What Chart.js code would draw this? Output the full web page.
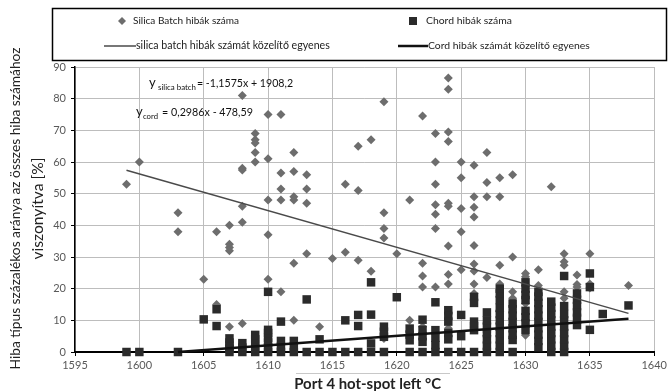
<!DOCTYPE html>
<html>
<head>
<meta charset="utf-8">
<script src="https://cdn.jsdelivr.net/npm/chart.js@4.4.1/dist/chart.umd.min.js"></script>
<style>
  html, body { margin: 0; padding: 0; background: #fff; }
  #wrap { width: 670px; height: 391px; }
</style>
</head>
<body>
<div id="wrap"><canvas id="chart" width="670" height="391"></canvas></div>
<script>
// ===== Data =====
const xTicks = [1595, 1600, 1605, 1610, 1615, 1620, 1625, 1630, 1635, 1640];
const yTicks = [0, 10, 20, 30, 40, 50, 60, 70, 80, 90];

// Silica Batch hibák száma (diamonds)
const silicaPoints = [
  [1599, 53], [1600, 60], [1603, 44], [1603, 38], [1605, 23], [1606, 38], [1606, 15],
  [1607, 40], [1607, 34], [1607, 33], [1607, 32], [1607, 8],
  [1608, 81], [1608, 58], [1608, 57.5], [1608, 46], [1608, 41], [1608, 9],
  [1609, 69], [1609, 67], [1609, 66], [1609, 63], [1609, 60],
  [1610, 75], [1610, 61], [1610, 48], [1610, 37], [1610, 23],
  [1611, 75], [1611, 56.5], [1611, 51.5], [1611, 48], [1611, 19],
  [1612, 63], [1612, 57], [1612, 49], [1612, 48], [1612, 28], [1612, 10],
  [1613, 56], [1613, 51.5], [1613, 47], [1613, 31],
  [1614, 8], [1615, 29.5], [1616, 53], [1616, 31.5],
  [1617, 65], [1617, 51], [1617, 29], [1618, 67], [1618, 25.5],
  [1619, 79], [1619, 44], [1619, 39], [1619, 36], [1619, 4.3],
  [1620, 31], [1621, 48], [1621, 10],
  [1622, 74.5], [1622, 28], [1622, 24], [1622, 20.5], [1622, 8], [1622, 5.5],
  [1623, 69], [1623, 60], [1623, 53], [1623, 46.5], [1623, 43.5], [1623, 39], [1623, 20.5],
  [1624, 86.5], [1624, 83], [1624, 69.5], [1624, 66.5], [1624, 47], [1624, 46],
  [1624, 33.5], [1624, 24.5], [1624, 21.5], [1624, 7.5],
  [1625, 60], [1625, 55], [1625, 45.3], [1625, 38], [1625, 26],
  [1626, 59], [1626, 49], [1626, 45.7], [1626, 42.6], [1626, 33.6], [1626, 27.8],
  [1626, 25.6], [1626, 21.5], [1626, 18.5],
  [1627, 63], [1627, 53.5], [1627, 49], [1627, 23.5], [1627, 6.3], [1627, 5.3],
  [1628, 55], [1628, 49], [1628, 27.4], [1628, 21.5], [1628, 12.7],
  [1629, 56], [1629, 30], [1629, 19], [1629, 17], [1629, 4.3],
  [1630, 24.8], [1630, 23.8], [1630, 15.3], [1630, 5.3],
  [1631, 26], [1631, 21], [1632, 52.2],
  [1633, 31], [1633, 28.5], [1633, 27.4], [1633, 19], [1633, 17],
  [1634, 24.3], [1634, 21.3], [1634, 20.5], [1634, 12], [1634, 9],
  [1635, 31], [1635, 21.5], [1635, 20.2], [1638, 21]
];

// Chord hibák száma (squares)
const chordPoints = [
  [1599, 0], [1600, 0], [1603, 0], [1605, 10.3], [1606, 13.5], [1606, 8.2],
  [1607, 0], [1607, 1], [1607, 2], [1607, 3], [1607, 4.3],
  [1608, 0], [1608, 1.4], [1608, 2.8],
  [1609, 0], [1609, 1.3], [1609, 2.7], [1609, 4], [1609, 5.4],
  [1610, 19], [1610, 0], [1610, 1.5], [1610, 3], [1610, 4.5], [1610, 6], [1610, 7],
  [1611, 9.6], [1611, 0], [1611, 1.7], [1611, 3.5],
  [1612, 0], [1612, 1.7], [1612, 3.5],
  [1613, 16.6], [1613, 0], [1614, 4], [1614, 0], [1615, 0],
  [1616, 10], [1616, 0], [1617, 11.7], [1617, 8.2], [1617, 0],
  [1618, 22], [1618, 11.8], [1618, 2.7], [1618, 0],
  [1619, 0], [1619, 4.8], [1619, 6.4], [1619, 8], [1620, 17.3],
  [1621, 0], [1621, 3.7], [1621, 5.5], [1621, 7.4],
  [1622, 10.2], [1622, 0], [1622, 3.2], [1622, 5], [1622, 7],
  [1623, 15.7], [1623, 0], [1623, 2.2], [1623, 4.5], [1623, 6.9],
  [1624, 13.2], [1624, 11.4], [1624, 9.6], [1624, 6], [1624, 4], [1624, 0],
  [1625, 11.7], [1625, 5], [1625, 0],
  [1626, 17.4], [1626, 15.5], [1626, 9.6], [1626, 8.2], [1626, 6.9], [1626, 0],
  [1627, 0], [1627, 2], [1627, 4], [1627, 6], [1627, 8], [1627, 10], [1627, 12.5],
  [1628, 0], [1628, 2], [1628, 4], [1628, 6], [1628, 8], [1628, 10], [1628, 12],
  [1628, 14], [1628, 16.4], [1628, 18.5], [1628, 20],
  [1629, 0], [1629, 3.8], [1629, 5.5], [1629, 7.5], [1629, 9.5], [1629, 11.5],
  [1629, 13.5], [1629, 15.3],
  [1630, 22], [1630, 20], [1630, 18], [1630, 16.4], [1630, 13], [1630, 11], [1630, 9], [1630, 6.9],
  [1631, 1.5], [1631, 3.5], [1631, 5.5], [1631, 7.5], [1631, 9.5], [1631, 11.5],
  [1631, 13.5], [1631, 15.5], [1631, 17.5], [1631, 19],
  [1632, 0], [1632, 2], [1632, 4], [1632, 6], [1632, 8], [1632, 10], [1632, 12],
  [1632, 14], [1632, 15.9],
  [1633, 24], [1633, 0], [1633, 2], [1633, 4], [1633, 6], [1633, 8], [1633, 10],
  [1633, 12], [1633, 14.5],
  [1634, 18.5], [1634, 16.5], [1634, 14.5], [1634, 12.5], [1634, 10.5], [1634, 8.5],
  [1635, 24.8], [1635, 20.5], [1635, 7], [1636, 12], [1638, 14.7]
];

// trend lines (end points)
const silicaFit = [[1599, 57.4], [1638, 12.2]];
const cordFit = [[1603, 0], [1638, 10.5]];

const toXY = arr => arr.map(p => ({ x: p[0], y: p[1] }));

// draw text squeezed/stretched to a given width
function fitText(ctx, text, x, y, width, size, weight) {
  ctx.font = (weight || '') + ' ' + size + 'px Lato';
  const w = ctx.measureText(text).width;
  const s = (size * width / w).toFixed(2);
  ctx.font = (weight || '') + ' ' + s + 'px Lato';
  ctx.fillText(text, x, y);
}

// ===== Custom legend box, equations and axis titles =====
const decorPlugin = {
  id: 'decor',
  afterDraw(chart) {
    const ctx = chart.ctx;
    ctx.save();

    // legend box
    ctx.strokeStyle = '#000';
    ctx.lineWidth = 1.5;
    ctx.strokeRect(52.5, 8.5, 614, 52);

    ctx.textBaseline = 'middle';
    ctx.textAlign = 'left';

    // diamond
    ctx.fillStyle = '#6d6d6d';
    ctx.beginPath();
    ctx.moveTo(122, 17); ctx.lineTo(126, 21); ctx.lineTo(122, 25); ctx.lineTo(118, 21);
    ctx.closePath(); ctx.fill();
    ctx.fillStyle = '#222';
    fitText(ctx, 'Silica Batch hibák száma', 133, 21, 106, 11);

    // square
    ctx.fillStyle = '#2b2b2b';
    ctx.fillRect(409, 17, 8, 8);
    ctx.fillStyle = '#222';
    fitText(ctx, 'Chord hibák száma', 426, 21, 86, 11);

    // line items
    ctx.strokeStyle = '#4a4a4a'; ctx.lineWidth = 1.5;
    ctx.beginPath(); ctx.moveTo(104, 46); ctx.lineTo(136, 46); ctx.stroke();
    fitText(ctx, 'silica batch hibák számát közelítő egyenes', 136, 46, 194, 11);
    ctx.strokeStyle = '#111'; ctx.lineWidth = 2.5;
    ctx.beginPath(); ctx.moveTo(398, 46); ctx.lineTo(428, 46); ctx.stroke();
    fitText(ctx, 'Cord hibák számát közelítő egyenes', 428, 46, 162, 11);

    // equations
    ctx.fillStyle = '#111';
    ctx.textBaseline = 'alphabetic';
    ctx.font = '13px Lato';
    ctx.fillText('y', 149, 87);
    fitText(ctx, 'silica batch', 158, 90, 38, 9);
    fitText(ctx, '= -1,1575x + 1908,2', 197, 87, 96, 12);
    ctx.font = '13px Lato';
    ctx.fillText('y', 136, 116);
    fitText(ctx, 'cord', 143, 119, 15, 9);
    fitText(ctx, '= 0,2986x - 478,59', 162, 116, 91, 12);

    // y axis title (two rotated lines, centred on the plot area)
    const area = chart.chartArea;
    const midY = (area.top + area.bottom) / 2;
    ctx.fillStyle = '#222';
    ctx.textAlign = 'center';
    ctx.textBaseline = 'middle';
    ctx.translate(16, midY - 1);
    ctx.rotate(-Math.PI / 2);
    fitText(ctx, 'Hiba típus százalékos aránya az összes hiba számához', 0, 0, 322, 14);
    fitText(ctx, 'viszonyítva [%]', 0, 22, 102, 14);
    ctx.setTransform(1, 0, 0, 1, 0, 0);

    // x axis title (centred on the plot area)
    const midX = (area.left + area.right) / 2;
    ctx.strokeStyle = '#c8c8c8'; ctx.lineWidth = 1;
    ctx.beginPath(); ctx.moveTo(296, 373.5); ctx.lineTo(450, 373.5); ctx.stroke();
    ctx.fillStyle = '#222';
    fitText(ctx, 'Port 4 hot-spot left °C', midX + 3, 384, 147, 15, 'bold');

    ctx.restore();
  }
};

const tickFont = { family: 'Lato', size: 11 };

new Chart(document.getElementById('chart'), {
  type: 'scatter',
  data: {
    datasets: [
      {
        type: 'line', label: 'Cord hibák számát közelítő egyenes',
        data: toXY(cordFit), borderColor: '#111', borderWidth: 2.5,
        pointRadius: 0, fill: false, clip: false
      },
      {
        type: 'line', label: 'silica batch hibák számát közelítő egyenes',
        data: toXY(silicaFit), borderColor: '#4a4a4a', borderWidth: 1.5,
        pointRadius: 0, fill: false, clip: false
      },
      {
        label: 'Chord hibák száma', data: toXY(chordPoints),
        pointStyle: 'rect', pointRadius: 6, backgroundColor: '#2b2b2b',
        borderWidth: 0, clip: false
      },
      {
        label: 'Silica Batch hibák száma', data: toXY(silicaPoints),
        pointStyle: 'rectRot', pointRadius: 4.5, backgroundColor: '#6d6d6d',
        borderWidth: 0, clip: false
      }
    ]
  },
  options: {
    responsive: false,
    animation: false,
    devicePixelRatio: 1,
    layout: { padding: { top: 67, right: 11, left: 0, bottom: 0 } },
    plugins: { legend: { display: false }, tooltip: { enabled: false } },
    scales: {
      x: {
        type: 'linear', min: 1595, max: 1640,
        afterBuildTicks: s => { s.ticks = xTicks.map(v => ({ value: v })); },
        afterFit: s => { s.height = 39; },
        ticks: { color: '#595959', font: tickFont, padding: 3, maxRotation: 0,
                 callback: v => String(v) },
        grid: { color: '#bdbdbd', tickColor: '#000', tickLength: 4 },
        border: { color: '#000', width: 2 }
      },
      y: {
        min: 0, max: 90,
        afterBuildTicks: s => { s.ticks = yTicks.map(v => ({ value: v })); },
        afterFit: s => { s.width = 75; },
        ticks: { color: '#595959', font: tickFont, padding: 5 },
        grid: { color: '#bdbdbd', tickColor: '#000', tickLength: 4 },
        border: { color: '#000', width: 1.5 }
      }
    }
  },
  plugins: [decorPlugin]
});
</script>
</body>
</html>
